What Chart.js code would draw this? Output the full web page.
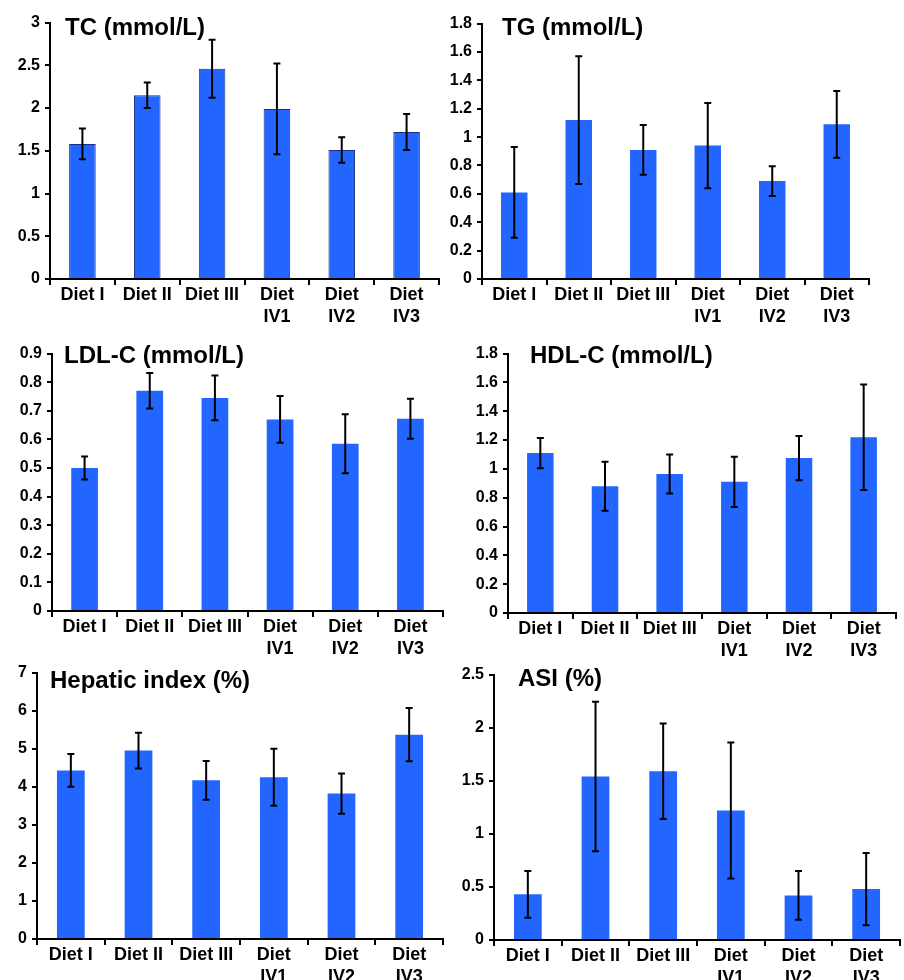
<!DOCTYPE html>
<html>
<head>
<meta charset="utf-8">
<script src="https://cdn.jsdelivr.net/npm/chart.js@4"></script>
<style>
    body { margin: 0; background: #fff; width: 904px; height: 980px; position: relative; overflow: hidden; }
    canvas { position: absolute; }
</style>
</head>
<body>
<canvas id="tcChart"></canvas>
<canvas id="tgChart"></canvas>
<canvas id="ldlChart"></canvas>
<canvas id="hdlChart"></canvas>
<canvas id="hepChart"></canvas>
<canvas id="asiChart"></canvas>
<script>
// Groups
const categories = ['Diet I', 'Diet II', 'Diet III', ['Diet', 'IV1'], ['Diet', 'IV2'], ['Diet', 'IV3']];

// Means and error bar half-widths
const tcMean = [1.58, 2.15, 2.46, 1.99, 1.51, 1.72];
const tcErr = [0.18, 0.15, 0.34, 0.53, 0.15, 0.21];
const tgMean = [0.61, 1.12, 0.91, 0.94, 0.69, 1.09];
const tgErr = [0.32, 0.45, 0.175, 0.30, 0.105, 0.235];
const ldlMean = [0.50, 0.77, 0.745, 0.67, 0.585, 0.672];
const ldlErr = [0.04, 0.062, 0.078, 0.082, 0.103, 0.07];
const hdlMean = [1.11, 0.88, 0.965, 0.91, 1.075, 1.22];
const hdlErr = [0.105, 0.17, 0.135, 0.175, 0.153, 0.366];
const hepMean = [4.43, 4.95, 4.17, 4.25, 3.82, 5.37];
const hepErr = [0.43, 0.47, 0.51, 0.75, 0.53, 0.70];
const asiMean = [0.43, 1.54, 1.59, 1.22, 0.42, 0.48];
const asiErr = [0.22, 0.705, 0.45, 0.64, 0.23, 0.34];

// Y tick labels
const tcTicks = [0, 0.5, 1, 1.5, 2, 2.5, 3];
const tgTicks = [0, 0.2, 0.4, 0.6, 0.8, 1, 1.2, 1.4, 1.6, 1.8];
const ldlTicks = [0, 0.1, 0.2, 0.3, 0.4, 0.5, 0.6, 0.7, 0.8, 0.9];
const hdlTicks = [0, 0.2, 0.4, 0.6, 0.8, 1, 1.2, 1.4, 1.6, 1.8];
const hepTicks = [0, 1, 2, 3, 4, 5, 6, 7];
const asiTicks = [0, 0.5, 1, 1.5, 2, 2.5];

const FONT = "'Liberation Sans', Arial, sans-serif";
const BAR_BLUE = '#2266ff';

// Draw mean +/- error whiskers through the y scale
const errorBarPlugin = {
    id: 'errorBars',
    afterDatasetsDraw(chart, args, opts) {
        const ctx = chart.ctx;
        const yScale = chart.scales.y;
        const meta = chart.getDatasetMeta(0);
        const means = chart.data.datasets[0].data;
        ctx.save();
        ctx.strokeStyle = '#000';
        ctx.lineWidth = 2;
        meta.data.forEach((bar, i) => {
            const yTop = yScale.getPixelForValue(means[i] + opts.errors[i]);
            const yBot = yScale.getPixelForValue(means[i] - opts.errors[i]);
            ctx.beginPath();
            ctx.moveTo(bar.x, yTop);
            ctx.lineTo(bar.x, yBot);
            ctx.moveTo(bar.x - 3.5, yTop);
            ctx.lineTo(bar.x + 3.5, yTop);
            ctx.moveTo(bar.x - 3.5, yBot);
            ctx.lineTo(bar.x + 3.5, yBot);
            ctx.stroke();
        });
        ctx.restore();
    }
};

// Panel title inside the plot area
const panelTitlePlugin = {
    id: 'panelTitle',
    afterDraw(chart, args, opts) {
        const ctx = chart.ctx;
        ctx.save();
        ctx.font = 'bold 24px ' + FONT;
        ctx.fillStyle = '#000';
        ctx.textBaseline = 'alphabetic';
        ctx.fillText(opts.text, chart.chartArea.left + opts.dx, chart.chartArea.top + opts.dy);
        ctx.restore();
    }
};

function makePanel(id, box, title, means, errors, ticks, border) {
    const padTop = 14, padRight = 8, xHeight = 52;
    const canvas = document.getElementById(id);
    const yWidth = box.left - box.canvasLeft;
    const w = yWidth + (box.right - box.left) + padRight;
    const h = padTop + (box.bottom - box.top) + xHeight;
    canvas.width = w;
    canvas.height = h;
    canvas.style.left = box.canvasLeft + 'px';
    canvas.style.top = (box.top - padTop) + 'px';

    return new Chart(canvas.getContext('2d'), {
        type: 'bar',
        data: {
            labels: categories,
            datasets: [{
                data: means,
                backgroundColor: BAR_BLUE,
                borderColor: border ? '#1b2f80' : BAR_BLUE,
                borderWidth: border ? 1 : 0,
                barPercentage: 0.41,
                categoryPercentage: 1
            }]
        },
        options: {
            responsive: false,
            animation: false,
            layout: { padding: { top: padTop, right: padRight, left: 0, bottom: 0 } },
            plugins: {
                legend: { display: false },
                tooltip: { enabled: false },
                errorBars: { errors: errors },
                panelTitle: { text: title, dx: box.titleX, dy: box.titleY }
            },
            scales: {
                x: {
                    offset: true,
                    grid: {
                        offset: true,
                        drawOnChartArea: false,
                        tickLength: 6,
                        color: '#000',
                        lineWidth: 2
                    },
                    border: { display: true, color: '#000', width: 2 },
                    ticks: {
                        color: '#000',
                        padding: 0,
                        maxRotation: 0,
                        autoSkip: false,
                        font: { family: FONT, size: 18, weight: 'bold', lineHeight: 1.17 }
                    },
                    afterFit(scale) { scale.height = xHeight; }
                },
                y: {
                    min: ticks[0],
                    max: ticks[ticks.length - 1],
                    grid: {
                        drawOnChartArea: false,
                        tickLength: 5,
                        color: '#000',
                        lineWidth: 2
                    },
                    border: { display: true, color: '#000', width: 2 },
                    ticks: {
                        color: '#000',
                        padding: 5,
                        font: { family: FONT, size: 16, weight: 'bold' },
                        callback: v => String(+v.toFixed(2))
                    },
                    afterBuildTicks(scale) { scale.ticks = ticks.map(v => ({ value: v })); },
                    afterFit(scale) { scale.width = yWidth; }
                }
            }
        },
        plugins: [errorBarPlugin, panelTitlePlugin]
    });
}

makePanel('tcChart', { canvasLeft: 0, left: 50, right: 439, top: 22, bottom: 279, titleX: 15, titleY: 12 },
    'TC (mmol/L)', tcMean, tcErr, tcTicks, true);
makePanel('tgChart', { canvasLeft: 440, left: 482, right: 869, top: 23, bottom: 279, titleX: 20, titleY: 11 },
    'TG (mmol/L)', tgMean, tgErr, tgTicks, false);
makePanel('ldlChart', { canvasLeft: 0, left: 52, right: 443, top: 353, bottom: 611, titleX: 12, titleY: 9 },
    'LDL-C (mmol/L)', ldlMean, ldlErr, ldlTicks, false);
makePanel('hdlChart', { canvasLeft: 440, left: 508, right: 896, top: 353, bottom: 613, titleX: 22, titleY: 9 },
    'HDL-C (mmol/L)', hdlMean, hdlErr, hdlTicks, false);
makePanel('hepChart', { canvasLeft: 0, left: 37, right: 443, top: 672, bottom: 939, titleX: 13, titleY: 15 },
    'Hepatic index (%)', hepMean, hepErr, hepTicks, false);
makePanel('asiChart', { canvasLeft: 440, left: 494, right: 900, top: 674, bottom: 940, titleX: 24, titleY: 11 },
    'ASI (%)', asiMean, asiErr, asiTicks, false);
</script>
</body>
</html>
